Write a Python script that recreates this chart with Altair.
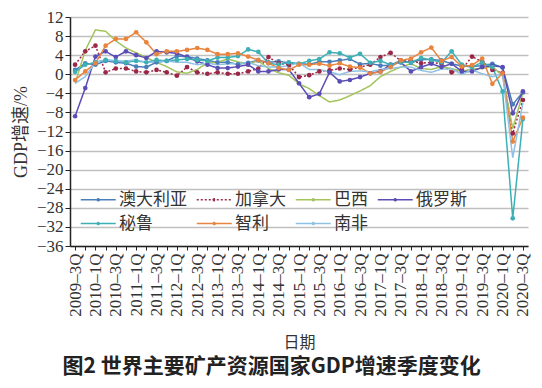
import altair as alt
import pandas as pd

quarters = [f"{y}–{q}Q" for y in range(2009, 2021) for q in range(1, 5)][2:47]

countries = ["澳大利亚", "加拿大", "巴西", "俄罗斯", "秘鲁", "智利", "南非"]
colors = ["#4A7EBB", "#9B2747", "#A3C45C", "#5A4DB5", "#3DB0B5", "#E8843E", "#8EC1E4"]
dashes = [[1, 0], [2, 2], [1, 0], [1, 0], [1, 0], [1, 0], [1, 0]]
with_markers = ["澳大利亚", "加拿大", "俄罗斯", "秘鲁", "智利"]

australia = [0.9, 2.3, 2.0, 2.8, 2.5, 2.3, 1.6, 1.5, 2.5, 2.8, 3.8, 3.7, 3.3, 2.9, 2.5,
             2.5, 2.1, 2.4, 2.9, 2.5, 2.7, 2.4, 2.2, 2.1, 2.6, 2.6, 2.9, 3.2, 2.1, 2.3,
             1.8, 1.9, 2.9, 2.4, 3.1, 3.1, 2.9, 2.2, 1.7, 1.6, 1.8, 2.2, 1.4, -6.3, -3.8]
canada = [2.0, 4.8, 6.0, 0.4, 1.2, 1.2, 0.6, 0.4, 0.9, 0.4, -0.3, 1.5, 0.4, 0.1, 0.4,
          0.1, 0.1, 0.6, 1.2, 3.6, 2.3, 2.0, -0.6, -0.2, 0.6, 0.8, 1.2, 1.0, 1.5, 2.0,
          3.6, 4.5, 2.8, 2.8, 2.3, 2.5, 2.2, 0.4, 1.0, 3.7, 2.6, 0.9, 0.3, -12.4, -5.4]
brazil = [-1.9, 5.0, 9.3, 9.0, 7.0, 5.5, 4.5, 3.5, 2.5, 1.6, 0.5, 0.2, 1.0, 2.4, 2.5,
          3.2, 2.6, 2.2, 2.8, 1.2, 0.3, -0.2, -2.0, -3.0, -4.5, -5.8, -5.4, -4.5, -3.5, -2.4,
          -0.5, 0.6, 1.5, 2.2, 1.2, 1.0, 1.6, 1.2, 0.6, 1.1, 1.2, 1.6, -0.3, -11.4, -3.9]
russia = [-8.8, -2.9, 3.7, 4.8, 3.6, 4.8, 4.0, 3.4, 4.8, 4.6, 4.4, 3.6, 2.7, 2.0, 1.3,
          1.3, 1.6, 2.0, 0.6, 0.6, 1.0, 1.0, -1.9, -4.8, -4.1, 0.4, -1.5, -1.2, -0.6, 0.2,
          0.6, 2.0, 2.5, 0.6, 1.5, 2.2, 1.5, 2.2, 0.6, 0.6, 1.5, 1.8, 1.5, -8.2, -3.6]
peru = [0.5, 2.0, 2.5, 3.0, 2.8, 2.5, 2.8, 2.5, 3.0, 2.8, 3.0, 3.2, 3.0, 2.8, 3.5,
        3.5, 3.8, 5.2, 4.7, 2.3, 2.0, 2.5, 2.2, 2.8, 3.2, 4.6, 4.4, 3.5, 4.3, 2.4,
        2.8, 2.0, 2.5, 2.5, 3.4, 3.0, 2.5, 4.8, 2.0, 1.5, 2.5, 1.5, -3.6, -30.2, -9.4]
chile = [-1.2, 0.6, 2.3, 6.0, 7.4, 7.4, 8.8, 6.7, 4.2, 4.8, 4.8, 5.1, 5.5, 5.1, 4.2,
         4.2, 4.4, 3.7, 3.0, 2.3, 1.3, 0.9, 2.0, 2.0, 2.2, 1.8, 2.3, 1.6, 1.4, 0.2,
         0.5, 1.5, 2.9, 3.3, 4.6, 5.6, 2.8, 3.6, 1.6, 1.9, 3.3, -2.0, 0.2, -14.1, -9.1]
south_africa = [-1.9, -0.5, 2.5, 3.0, 2.8, 2.8, 3.0, 2.5, 2.5, 2.8, 2.5, 2.5, 2.0, 2.3, 2.0,
                2.2, 2.2, 2.5, 1.8, 1.5, 1.5, 1.8, 2.4, 1.0, 1.0, 0.5, -0.1, 0.6, 0.7, 0.5,
                1.0, 1.2, 1.5, 1.5, 0.8, 0.4, 1.1, 1.1, 0.0, 0.9, 0.1, -0.5, 0.1, -17.5, -6.0]

series = [australia, canada, brazil, russia, peru, chile, south_africa]

rows = []
for name, vals in zip(countries, series):
    for q, v in zip(quarters, vals):
        rows.append({"国家": name, "季度": q, "值": v})
df = pd.DataFrame(rows)

SERIF = "Liberation Serif, Noto Sans CJK SC"
SYMBOL = "M-1,0H3M0.88,0A0.12,0.12 0 1,0 1.12,0A0.12,0.12 0 1,0 0.88,0Z"

x_enc = alt.X(
    "季度:N", sort=quarters,
    scale=alt.Scale(type="point", padding=0.5),
    axis=alt.Axis(
        title="日期", labelAngle=-90,
        labelExpr="test(/[24]Q$/, datum.label) ? '' : datum.label",
        labelFont="Liberation Serif", labelFontSize=17, labelColor="#333",
        labelPadding=3, labelOverlap=False,
        titleFont=SERIF, titleFontSize=16, titleFontWeight="normal", titleColor="#333",
        titlePadding=18,
        domainColor="#222", domainWidth=1.5, tickColor="#222", tickSize=4, grid=False,
    ),
)
y_enc = alt.Y(
    "值:Q",
    scale=alt.Scale(domain=[-36, 12], nice=False, zero=False),
    axis=alt.Axis(
        values=list(range(-36, 13, 4)), title="GDP增速/%",
        labelFont="Liberation Serif", labelFontSize=17, labelColor="#333", labelPadding=2,
        titleFont=SERIF, titleFontSize=18, titleFontWeight="normal", titleColor="#333",
        titlePadding=6,
        domainColor="#222", domainWidth=1.5, tickColor="#222", tickSize=5,
        grid=True, gridColor="#c0c0c0", gridWidth=1.5,
    ),
)

legend = alt.Legend(
    orient="none", legendX=10, legendY=173, direction="horizontal", columns=4,
    title=None, symbolType=SYMBOL, symbolSize=306, symbolStrokeWidth=1.5,
    labelFont="Noto Sans CJK SC", labelFontSize=17, labelColor="#333",
    labelOffset=20, columnPadding=6, rowPadding=6,
)

color_enc = alt.Color("国家:N", sort=countries,
                      scale=alt.Scale(domain=countries, range=colors), legend=legend)
dash_enc = alt.StrokeDash("国家:N", sort=countries,
                          scale=alt.Scale(domain=countries, range=dashes), legend=legend)

lines = alt.Chart(df).mark_line(strokeWidth=1.5).encode(
    x=x_enc, y=y_enc, color=color_enc, strokeDash=dash_enc, order="季度:N"
)
points = alt.Chart(df).transform_filter(
    alt.FieldOneOfPredicate(field="国家", oneOf=with_markers)
).mark_point(filled=True, size=22, opacity=1).encode(
    x=x_enc, y=y_enc,
    color=alt.Color("国家:N", sort=countries,
                    scale=alt.Scale(domain=countries, range=colors), legend=None),
)

chart = alt.layer(lines, points).properties(
    width=458, height=229,
    autosize=alt.AutoSizeParams(type="none"),
    padding={"left": 62, "top": 9, "right": 6, "bottom": 134},
    title=alt.TitleParams(
        "图2 世界主要矿产资源国家GDP增速季度变化", orient="bottom", frame="bounds",
        font="Noto Sans CJK SC", fontSize=21, fontWeight="bold", color="#222", offset=6,
    ),
).configure_view(stroke=None)

chart.save("out.html", embed_options={"renderer": "svg", "actions": False})
